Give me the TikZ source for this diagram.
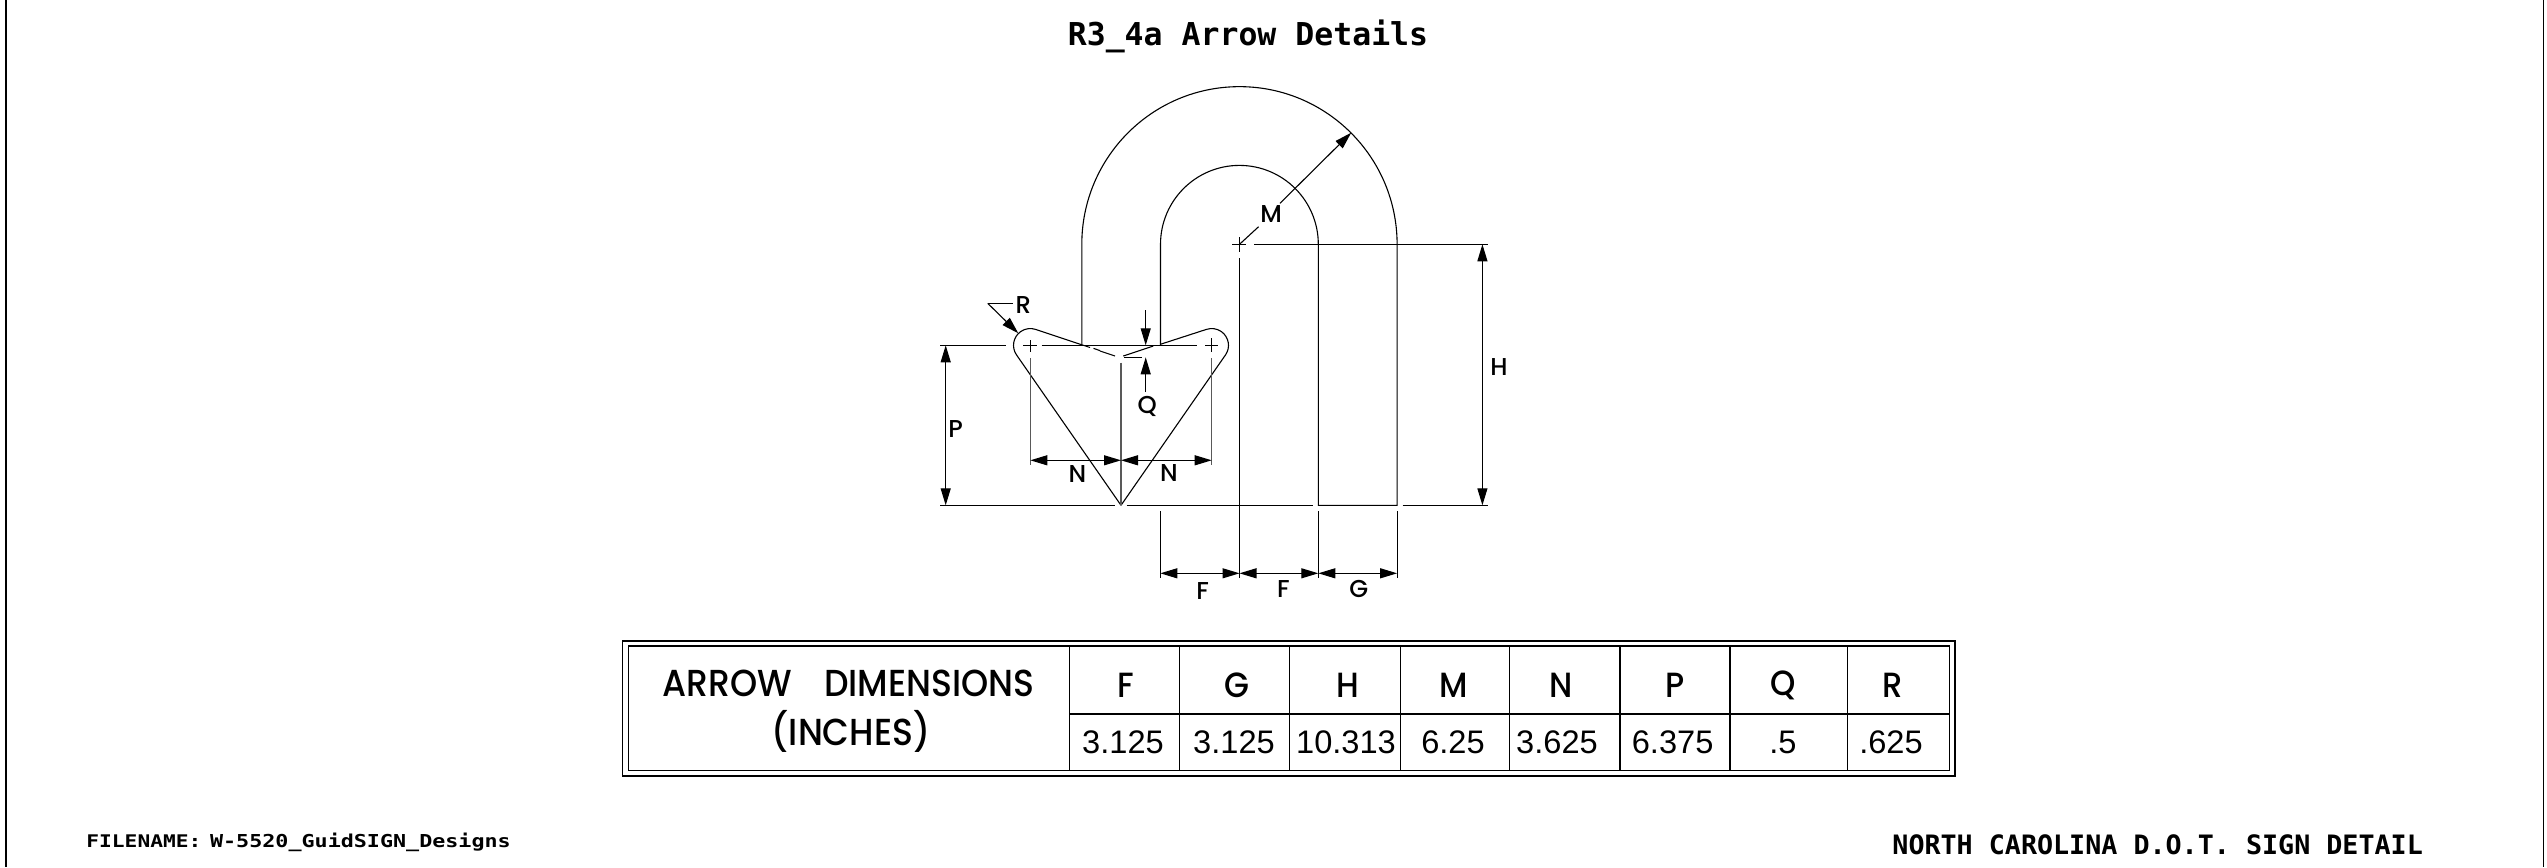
\documentclass[tikz,border=0pt]{standalone}
\usepackage{fontspec}
\usetikzlibrary{arrows.meta}
\setmainfont{Liberation Sans}
\newfontfamily\geo{Poppins Medium}
\newfontfamily\geoh[FakeStretch=0.92]{Poppins Medium}
\newfontfamily\monot{DejaVu Sans Mono Bold}
\newfontfamily\monof[FakeStretch=1.22]{DejaVu Sans Mono Bold}
\tikzset{
 ln/.style={line width=0.55pt,black},
 glin/.style={line width=0.7pt,black!65},
 tp/.style={-{Triangle[length=8.5pt,width=5pt]},line width=0.55pt},
 twoway/.style={{Triangle[length=8.5pt,width=5pt]}-{Triangle[length=8.5pt,width=5pt]},line width=0.55pt},
 dimlabel/.style={inner sep=0pt,font=\geo\fontsize{12.2}{13}\selectfont},
 headlabel/.style={inner sep=0pt,font=\geoh\fontsize{17.5}{18}\selectfont},
 rowlabel/.style={inner sep=0pt,font=\geoh\fontsize{18.8}{20}\selectfont},
 vallabel/.style={inner sep=0pt,font=\fontsize{16.3}{18}\selectfont},
}
\begin{document}
\begin{tikzpicture}[x=0.5pt,y=-0.5pt]
\useasboundingbox (0,0) rectangle (2547,867);
% page border
\draw[ln,line width=0.9pt] (6,0)--(6,867);
\draw[ln,line width=0.9pt] (2543.5,0)--(2543.5,867);
% title
\node[inner sep=0pt,anchor=base,font=\monot\fontsize{15.75}{16}\selectfont] (title) at (1248,46) {R3\_4a Arrow Details};
% key points
\coordinate (c) at (1239.5,244.3);
\coordinate (tip) at (1121,505.3);
% U shape
\draw[ln] (1081.8,345.3)--(1081.8,244.3) arc[start angle=180,end angle=360,radius=157.65]--(1397.1,505.3)--(1318.3,505.3)--(1318.3,244.3) arc[start angle=0,end angle=-180,radius=78.9]--(1160.5,345.3);
% arrow head outline
\draw[ln] (tip)--(1016.5,354.9) arc[start angle=-214.7,end angle=-71.8,radius=16.8]--(1090,347.5);
\draw[ln] (1093.5,348.4)--(1100,350.6);
\draw[ln] (1100,351)--(1115,356);
\draw[ln] (tip)--(1225.5,354.9) arc[start angle=34.7,end angle=-108.2,radius=16.8]--(1160.7,344.2);
\draw[ln] (1153.3,346)--(1123.3,356);
% horizontal centre line of arrow
\draw[ln] (940,345.3)--(1006,345.3);
\draw[ln] (1023,345.3)--(1037,345.3);
\draw[ln] (1041.7,345.3)--(1196.7,345.3);
\draw[ln] (1205,345.3)--(1218.3,345.3);
\draw[ln] (1124,357.3)--(1141.7,357.3);
% vertical extension lines
\draw[ln] (1030.3,340)--(1030.3,351.7);
\draw[glin] (1030.3,358.3)--(1030.3,465);
\draw[ln] (1211.7,338.3)--(1211.7,351.7);
\draw[glin] (1211.7,358.3)--(1211.7,465);
\draw[glin] (1121,362.7)--(1121,505.3);
% base line
\draw[ln] (940,505.3)--(1115,505.3);
\draw[ln] (1126.7,505.3)--(1312.7,505.3);
\draw[ln] (1402.7,505.3)--(1488.3,505.3);
% centre mark and lines
\draw[ln] (1232,244.3)--(1246,244.3);
\draw[ln] (1239.5,237.3)--(1239.5,251.7);
\draw[ln] (1254,244.3)--(1488,244.3);
\draw[ln] (1239.5,258.3)--(1239.5,578.3);
% lower extension lines
\draw[ln] (1160.3,511)--(1160.3,578.3);
\draw[ln] (1318.3,511)--(1318.3,578.3);
\draw[ln] (1397.1,511)--(1397.1,578.3);
% M leader
\draw[ln] (c)--(1258.6,226.7);
\draw[tp] (1280,203.3)--(1351.2,132.7);
% H, P
\draw[twoway] (1482.4,244.3)--(1482.4,505.3);
\draw[twoway] (945.7,345.3)--(945.7,505.3);
% N
\draw[twoway] (1030.3,460.3)--(1121,460.3);
\draw[twoway] (1121,460.3)--(1211.7,460.3);
% F, F, G
\draw[twoway] (1160.3,573.3)--(1239.5,573.3);
\draw[twoway] (1239.5,573.3)--(1318.3,573.3);
\draw[twoway] (1318.3,573.3)--(1397.1,573.3);
% Q
\draw[tp] (1145.7,310)--(1145.7,345.3);
\draw[tp] (1145.7,392)--(1145.7,357.3);
% R
\draw[ln] (1012.7,303.3)--(987.7,303.3);
\draw[tp] (987.7,303.3)--(1018.3,333.3);
% labels
\node[dimlabel] (lblM) at (1271,214) {M};
\node[dimlabel] (lblH) at (1499,367) {H};
\node[dimlabel] (lblP) at (955.7,429) {P};
\node[dimlabel] (lblN1) at (1077.3,474.3) {N};
\node[dimlabel] (lblN2) at (1169,473.3) {N};
\node[dimlabel] (lblQ) at (1147.3,406.7) {Q};
\node[dimlabel] (lblR) at (1023.3,305) {R};
\node[dimlabel] (lblF1) at (1202.7,590.7) {F};
\node[dimlabel] (lblF2) at (1283.3,589.3) {F};
\node[dimlabel] (lblG) at (1358.7,589) {G};
% table
\draw[ln] (622.5,641) rectangle (1955,776);
\draw[ln] (628.3,646) rectangle (1949.6,770.3);
\draw[ln] (1069.4,714)--(1949.6,714);
\foreach \x in {1069.4,1179.2,1289.5,1400.4,1509.8,1620,1730,1847.9}
  \draw[ln] (\x,646)--(\x,770.3);
\node[rowlabel] (thA) at (848.4,683) {ARROW\hspace{0.85em}DIMENSIONS};
\node[rowlabel] (thB) at (851,731.7) {(INCHES)};
\node[headlabel] (hF) at (1125.6,685) {F};
\node[headlabel] (hG) at (1237,685) {G};
\node[headlabel] (hH) at (1348,685) {H};
\node[headlabel] (hM) at (1454,685) {M};
\node[headlabel] (hN) at (1560.7,685) {N};
\node[headlabel] (hP) at (1674.8,685) {P};
\node[headlabel] (hQ) at (1783,685) {Q};
\node[headlabel] (hR) at (1893,685) {R};
\node[vallabel] (vF) at (1123,742) {3.125};
\node[vallabel] (vG) at (1234,742) {3.125};
\node[vallabel] (vH) at (1346,742) {10.313};
\node[vallabel] (vM) at (1453,742) {6.25};
\node[vallabel] (vN) at (1557,742) {3.625};
\node[vallabel] (vP) at (1672.6,742) {6.375};
\node[vallabel] (vQ) at (1783,742) {.5};
\node[vallabel] (vR) at (1891,742) {.625};
% footer
\node[inner sep=0pt,anchor=base west,font=\monof\fontsize{8.7}{10}\selectfont] (fn1) at (86,847.7) {FILENAME:};
\node[inner sep=0pt,anchor=base west,font=\monof\fontsize{8.9}{10}\selectfont] (fn2) at (209.7,847.7) {W-5520\_GuidSIGN\_Designs};
\node[inner sep=0pt,anchor=base west,font=\monot\fontsize{13.35}{14}\selectfont] (nc) at (1892,854.3) {NORTH CAROLINA D.O.T. SIGN DETAIL};
\end{tikzpicture}
\end{document}
